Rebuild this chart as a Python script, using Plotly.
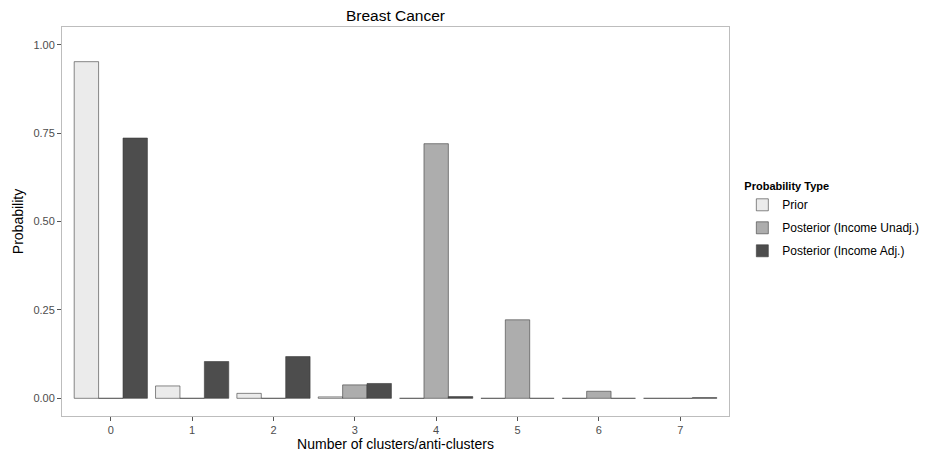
import plotly.graph_objects as go

categories = [0, 1, 2, 3, 4, 5, 6, 7]
prior = [0.952, 0.035, 0.014, 0.004, 0.0, 0.0, 0.0, 0.0]
posterior_unadj = [0.0, 0.0, 0.0, 0.038, 0.72, 0.222, 0.02, 0.0]
posterior_adj = [0.736, 0.104, 0.118, 0.042, 0.005, 0.0, 0.0, 0.002]
series_names = ["Prior", "Posterior (Income Unadj.)", "Posterior (Income Adj.)"]
colors = ["#EBEBEB", "#ADADAD", "#4D4D4D"]
tick_vals = [0, 0.25, 0.5, 0.75, 1.0]
tick_text = ["0.00", "0.25", "0.50", "0.75", "1.00"]

fig = go.Figure()
for i, (name, vals, col) in enumerate(zip(series_names, [prior, posterior_unadj, posterior_adj], colors)):
    fig.add_trace(go.Bar(
        x=categories, y=vals, name=name, legendgroup=f"g{i}",
        marker=dict(color=col, line=dict(color="#3a3a3a", width=0.6)),
    ))

# page body has an 8px margin, so figure is 921x454 placed at (8,8)
W, H = 921, 454
font_family = "Liberation Sans, Arial, Helvetica, sans-serif"
fig.update_layout(
    width=W, height=H,
    margin=dict(l=54, r=200, t=19, b=46, autoexpand=False),
    paper_bgcolor="white", plot_bgcolor="white",
    barmode="group", bargap=0.1, bargroupgap=0,
    font=dict(family=font_family, color="#000"),
    title=dict(text="Breast Cancer", x=(54 + 721) / 2 / W, xanchor="center",
               y=1 - 8 / H, yanchor="middle",
               font=dict(size=15.5, color="#000")),
    xaxis=dict(
        range=[-0.6, 7.6], tickmode="array", tickvals=categories,
        ticktext=[str(c) for c in categories],
        showgrid=False, zeroline=False, automargin=False,
        showline=True, linecolor="#BDBDBD", linewidth=1, mirror=True,
        ticks="outside", ticklen=4, tickcolor="#555", tickwidth=1,
        tickfont=dict(size=11, color="#4d4d4d"),
        title=dict(text="Number of clusters/anti-clusters", font=dict(size=14), standoff=2),
    ),
    yaxis=dict(
        range=[-0.05, 1.05], tickmode="array", tickvals=tick_vals, ticktext=tick_text,
        showgrid=False, zeroline=False, automargin=False,
        showline=True, linecolor="#BDBDBD", linewidth=1, mirror=True,
        ticks="outside", ticklen=4, tickcolor="#555", tickwidth=1,
        tickfont=dict(size=11, color="#4d4d4d"),
        title=dict(text="Probability", font=dict(size=14), standoff=6),
    ),
    legend=dict(
        x=1.02, y=0.617, xanchor="left", yanchor="top",
        title=dict(text="<b>Probability Type</b>", font=dict(size=11)),
        font=dict(size=12), bgcolor="rgba(0,0,0,0)",
        tracegroupgap=4, itemwidth=30,
    ),
)

fig.write_html("out.html")
